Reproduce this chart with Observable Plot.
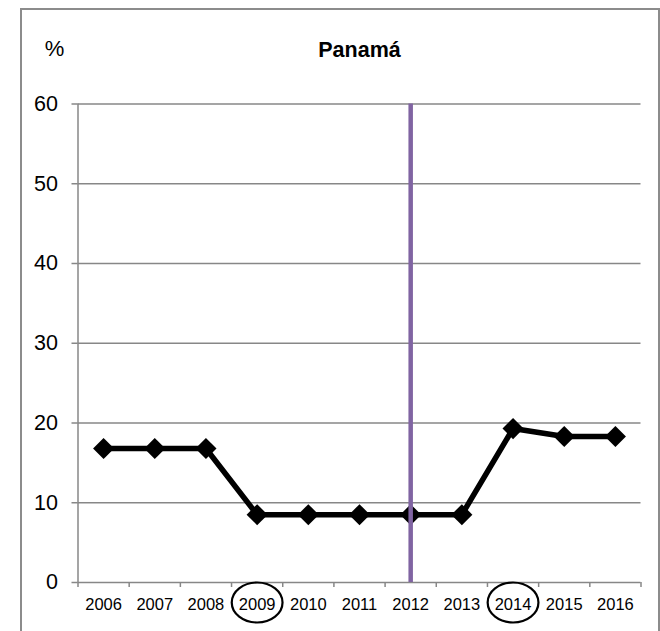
<!DOCTYPE html>
<html><head><meta charset="utf-8">
<script src="https://cdn.jsdelivr.net/npm/d3@7"></script>
<script src="https://cdn.jsdelivr.net/npm/@observablehq/plot@0.6"></script>
<style>
body{margin:0;width:660px;height:631px;overflow:hidden;background:#fff;font-family:"Liberation Sans",Arial,sans-serif;}
#wrap{position:relative;width:660px;height:631px;}
#border{position:absolute;left:20px;top:8px;width:636px;height:700px;border:2px solid #8c8c8c;border-bottom:none;z-index:2;pointer-events:none;}
#chart{position:absolute;left:0;top:0;}
</style></head><body><div id="wrap"><div id="chart"></div><div id="border"></div></div>
<script>
const years = [2006, 2007, 2008, 2009, 2010, 2011, 2012, 2013, 2014, 2015, 2016];
const values = [16.8, 16.8, 16.8, 8.5, 8.5, 8.5, 8.5, 8.5, 19.3, 18.3, 18.3];
const yTicks = [0, 10, 20, 30, 40, 50, 60];
const markerYear = [2012];
const circledYears = [2009, 2014];
const title = "Panamá";
const unitLabel = "%";

const data = years.map((y, i) => ({year: y, value: values[i]}));
const bounds = years.map(y => y - 0.5).concat([years[years.length - 1] + 0.5]);

const ellipseSymbol = {
  draw(ctx, size) {
    const r = Math.sqrt(size / Math.PI);
    const rx = r * 1.27, ry = r, k = 0.5523;
    ctx.moveTo(rx, 0);
    ctx.bezierCurveTo(rx, k * ry, k * rx, ry, 0, ry);
    ctx.bezierCurveTo(-k * rx, ry, -rx, k * ry, -rx, 0);
    ctx.bezierCurveTo(-rx, -k * ry, -k * rx, -ry, 0, -ry);
    ctx.bezierCurveTo(k * rx, -ry, rx, -k * ry, rx, 0);
    ctx.closePath();
  }
};

const grid = "#878787";
const chart = Plot.plot({
  width: 660,
  height: 631,
  marginLeft: 77.5,
  marginRight: 19.5,
  marginTop: 103.5,
  marginBottom: 49,
  style: {background: "transparent", fontFamily: "'Liberation Sans', Arial, sans-serif", color: "#000"},
  x: {type: "linear", domain: [bounds[0], bounds[bounds.length - 1]]},
  y: {domain: [0, 60]},
  marks: [
    Plot.ruleY(yTicks, {stroke: grid, strokeWidth: 1.5}),
    Plot.ruleX([bounds[0]], {stroke: grid, strokeWidth: 1.5}),
    Plot.axisY({ticks: yTicks, tickSize: 6, tickPadding: 14, stroke: grid, strokeWidth: 1.5, fontSize: 21.5, label: null, tickFormat: d => String(d)}),
    Plot.axisX({ticks: bounds, tickSize: 5, tickFormat: () => "", stroke: grid, strokeWidth: 1.5, label: null}),
    Plot.axisX({ticks: years, tickSize: 0, tickPadding: 16, fontSize: 16.5, label: null, tickFormat: d => String(d)}),
    Plot.line(data, {x: "year", y: "value", stroke: "#000", strokeWidth: 5.5}),
    Plot.dot(data, {x: "year", y: "value", symbol: "diamond2", r: 9.5, fill: "#000", stroke: "none"}),
    Plot.ruleX(markerYear, {y1: yTicks[0], y2: yTicks[yTicks.length - 1], stroke: "#8064A2", strokeWidth: 4.5}),
    Plot.dot(circledYears, {x: d => d, frameAnchor: "bottom", dy: 20, symbol: ellipseSymbol, r: 20, stroke: "#000", strokeWidth: 2.2, fill: "none"}),
    Plot.text([title], {frameAnchor: "top", textAnchor: "middle", dy: -62, text: d => d, fontSize: 21.5, fontWeight: "bold", fill: "#000"}),
    Plot.text([unitLabel], {frameAnchor: "top-left", textAnchor: "middle", dx: -23.5, dy: -64, text: d => d, fontSize: 22, fill: "#000"})
  ]
});
document.getElementById("chart").appendChild(chart);
</script>
</body></html>
